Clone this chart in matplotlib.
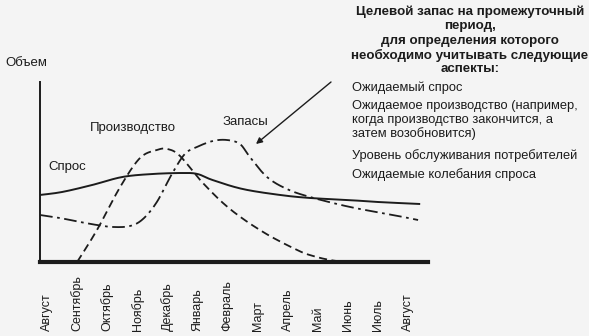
import numpy as np
import matplotlib.pyplot as plt

# месяцы по оси X
months = ['Август', 'Сентябрь', 'Октябрь', 'Ноябрь', 'Декабрь', 'Январь',
          'Февраль', 'Март', 'Апрель', 'Май', 'Июнь', 'Июль', 'Август']

# спрос (сплошная линия)
demand_x = [-0.25, 0.5, 1.5, 2.5, 3.5, 4.5, 5.0, 5.5, 6.5, 7.75, 8.75, 10.0, 11.0, 12.4]
demand_y = [67, 70, 77, 85, 88, 89, 88, 82, 73, 67, 64, 62, 60, 58]

# производство (штриховая)
prod_x = [1.0, 1.66, 2.43, 3.09, 3.65, 4.0, 4.42, 5.18, 6.08, 7.18, 8.31, 8.84, 9.4, 9.9]
prod_y = [0, 32, 75, 104, 112, 113, 106, 79, 53, 30, 12, 6, 2, 0]

# запасы (штрих-пунктир)
stock_x = [-0.23, 0.43, 1.1, 1.66, 2.19, 2.76, 3.19, 3.65, 4.15, 4.58, 4.98, 5.51,
           5.98, 6.41, 6.74, 7.31, 7.97, 8.74, 10.07, 11.5, 12.33]
stock_y = [47, 44, 40, 37, 35, 36, 43, 60, 88, 108, 115, 121, 122, 118, 105, 85,
           73, 65, 55, 47, 42]

title_lines = ['Целевой запас на промежуточный', 'период,', 'для определения которого',
               'необходимо учитывать следующие', 'аспекты:']
aspects = ['Ожидаемый спрос', 'Ожидаемое производство (например,',
           'когда производство закончится, а', 'затем возобновится)',
           'Уровень обслуживания потребителей', 'Ожидаемые колебания спроса']

W, H = 589, 336
ink = '#1c1c1c'
plt.rcParams['font.family'] = ['Liberation Sans', 'DejaVu Sans']


def smooth(xs, ys, n=16):
    # кривая Катмулла-Рома через точки
    p = np.column_stack([xs, ys]).astype(float)
    p = np.vstack([p[0], p, p[-1]])
    out = []
    t = np.linspace(0, 1, n, endpoint=False)[:, None]
    for i in range(1, len(p) - 2):
        p0, p1, p2, p3 = p[i - 1], p[i], p[i + 1], p[i + 2]
        out.append(0.5 * (2 * p1 + (-p0 + p2) * t + (2 * p0 - 5 * p1 + 4 * p2 - p3) * t ** 2
                          + (-p0 + 3 * p1 - 3 * p2 + p3) * t ** 3))
    out.append(p[-2][None])
    return np.vstack(out).T


def px(x, y):
    # пиксели картинки -> доли фигуры
    return x / W, 1 - y / H


fig = plt.figure(figsize=(W / 100, H / 100), dpi=100, facecolor='#f4f4f4')
ax = fig.add_axes([40 / W, (H - 262) / H, (428 - 40) / W, (262 - 82) / H])
ax.set_facecolor('none')

x, y = smooth(demand_x, demand_y)
ax.plot(x, y, color=ink, lw=1.4, solid_capstyle='butt')
x, y = smooth(prod_x, prod_y)
ax.plot(x, y, color=ink, lw=1.3, linestyle=(0, (4.5, 2.5)))
x, y = smooth(stock_x, stock_y)
ax.plot(x, y, color=ink, lw=1.3, linestyle=(0, (7, 2.5, 1.5, 2.5)))

ax.set_xlim(-0.233, 12.66)
ax.set_ylim(0, 180)
for s in ['top', 'right']:
    ax.spines[s].set_visible(False)
ax.spines['left'].set_linewidth(1.4)
ax.spines['bottom'].set_linewidth(3)
ax.spines['left'].set_color(ink)
ax.spines['bottom'].set_color(ink)
ax.set_xticks([])
ax.set_yticks([])

# подписи месяцев, выровнены по нижнему краю
lab_y = -(331 - 262) / (262 - 82)
for i, m in enumerate(months):
    ax.text(i, lab_y, m, transform=ax.get_xaxis_transform(), rotation=90,
            ha='center', va='bottom', fontsize=9, color=ink)

fig.text(*px(5, 63), 'Объем', fontsize=9.5, color=ink, va='center', ha='left')
fig.text(*px(90, 128), 'Производство', fontsize=9.5, color=ink, va='center', ha='left')
fig.text(*px(223, 122), 'Запасы', fontsize=9.5, color=ink, va='center', ha='left')
fig.text(*px(48, 167), 'Спрос', fontsize=9.5, color=ink, va='center', ha='left')

for line, yy in zip(title_lines, [12, 26, 41, 55, 69]):
    fig.text(*px(470, yy), line, fontsize=9.6, fontweight='bold', color=ink,
             ha='center', va='center')
for line, yy in zip(aspects, [88, 106, 120, 134, 156, 175]):
    fig.text(*px(352, yy), line, fontsize=9.3, color=ink, ha='left', va='center')

ax.annotate('', xy=px(256, 144), xycoords='figure fraction',
            xytext=px(331, 82), textcoords='figure fraction',
            arrowprops=dict(arrowstyle='-|>', color=ink, lw=1.0,
                            mutation_scale=9, shrinkA=0, shrinkB=0))

fig.savefig('out.png', dpi=100, facecolor=fig.get_facecolor())
